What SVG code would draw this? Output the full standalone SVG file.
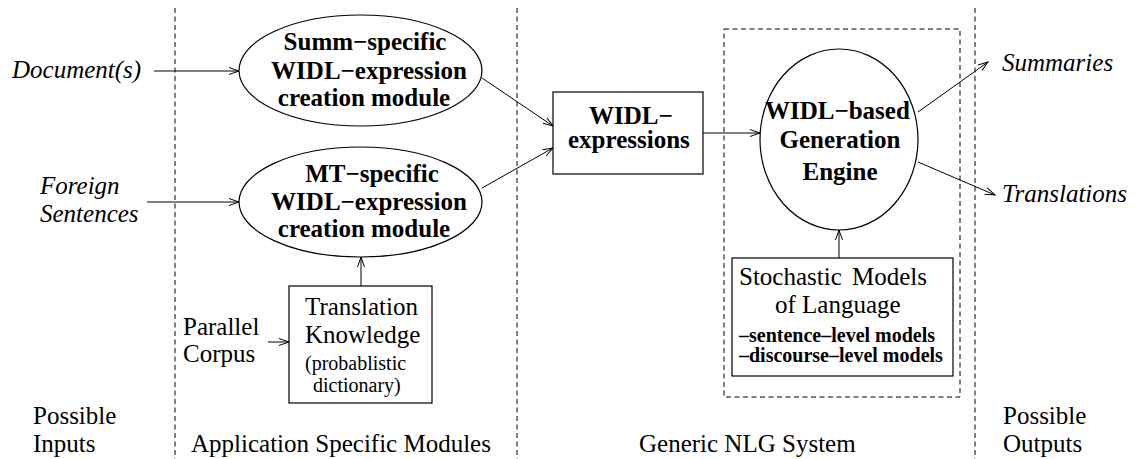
<svg xmlns="http://www.w3.org/2000/svg" width="1142" height="459" viewBox="0 0 1142 459" font-family="'Liberation Serif', 'Times New Roman', 'DejaVu Serif', serif">
  <style>
    text { font-family: "Liberation Serif", "Times New Roman", "DejaVu Serif", serif; fill: #000; }
    .rm { font-size: 25px; }
    .it { font-size: 25px; font-style: italic; }
    .bf { font-size: 25px; font-weight: bold; }
    .sm { font-size: 20px; }
    .sb { font-size: 20px; font-weight: bold; }
    .mid { text-anchor: middle; }
    .shape { fill: #fff; stroke: #000; stroke-width: 1.2; }
    .sep { stroke: #000; stroke-width: 1; stroke-dasharray: 5 3.5; fill: none; }
    .edge { stroke: #000; stroke-width: 1; fill: none; marker-end: url(#arrow); }
  </style>
  <defs>
    <marker id="arrow" markerUnits="userSpaceOnUse" markerWidth="12" markerHeight="10" refX="10" refY="4" orient="auto">
      <path d="M0,0.5 L10,4 L0,7.5" fill="none" stroke="#000" stroke-width="1"/>
    </marker>
  </defs>
  <rect width="1142" height="459" fill="#fff"/>

  <!-- column separators and system boundary -->
  <g id="separators">
    <line class="sep" x1="175" y1="8" x2="175" y2="459"/>
    <line class="sep" x1="517" y1="8" x2="517" y2="459"/>
    <line class="sep" x1="975" y1="8" x2="975" y2="459"/>
    <rect class="sep" x="724" y="29" width="236" height="368"/>
  </g>

  <!-- connectors -->
  <g id="connectors">
    <line class="edge" x1="154" y1="71" x2="239" y2="71"/>
    <line class="edge" x1="147" y1="202" x2="239" y2="202"/>
    <line class="edge" x1="361" y1="287" x2="361" y2="257"/>
    <line class="edge" x1="268" y1="342" x2="289" y2="342"/>
    <line class="edge" x1="482" y1="78" x2="553" y2="126"/>
    <line class="edge" x1="482" y1="188" x2="553" y2="148"/>
    <line class="edge" x1="703" y1="133" x2="760" y2="133"/>
    <line class="edge" x1="839" y1="258" x2="839" y2="230"/>
    <line class="edge" x1="918" y1="112" x2="988" y2="62"/>
    <line class="edge" x1="918" y1="162" x2="995" y2="195"/>
  </g>

  <!-- input and output labels -->
  <g id="inputs">
    <text class="it" x="12" y="78">Document(s)</text>
    <text class="it" x="40" y="194">Foreign</text>
    <text class="it" x="40" y="222">Sentences</text>
    <text class="rm" x="183" y="335">Parallel</text>
    <text class="rm" x="183" y="362">Corpus</text>
  </g>
  <g id="outputs">
    <text class="it" x="1002" y="71">Summaries</text>
    <text class="it" x="1002" y="202">Translations</text>
  </g>

  <g id="summ-module">
    <ellipse class="shape" cx="360.5" cy="70.5" rx="121.5" ry="55.5"/>
    <text class="bf mid" x="365" y="50">Summ−specific</text>
    <text class="bf mid" x="369" y="79">WIDL−expression</text>
    <text class="bf mid" x="364" y="106">creation module</text>
  </g>

  <g id="mt-module">
    <ellipse class="shape" cx="360.5" cy="202" rx="121.5" ry="55"/>
    <text class="bf mid" x="372" y="182">MT−specific</text>
    <text class="bf mid" x="369" y="210">WIDL−expression</text>
    <text class="bf mid" x="364" y="237">creation module</text>
  </g>

  <g id="translation-knowledge">
    <rect class="shape" x="289" y="286" width="143" height="117"/>
    <text class="rm" x="305" y="315">Translation</text>
    <text class="rm" x="305" y="343">Knowledge</text>
    <text class="sm" x="305" y="370">(probablistic</text>
    <text class="sm" x="313" y="392">dictionary)</text>
  </g>

  <g id="widl-expressions">
    <rect class="shape" x="553" y="92" width="150" height="82"/>
    <text class="bf" x="589" y="124">WIDL−</text>
    <text class="bf" x="568" y="148">expressions</text>
  </g>

  <g id="generation-engine">
    <ellipse class="shape" cx="839" cy="139.5" rx="79" ry="90.5"/>
    <text class="bf" x="765" y="119">WIDL−based</text>
    <text class="bf mid" x="840" y="148">Generation</text>
    <text class="bf mid" x="840" y="180">Engine</text>
  </g>

  <g id="stochastic-models">
    <rect class="shape" x="732" y="258" width="221" height="118"/>
    <text class="rm" x="739" y="285" word-spacing="4">Stochastic Models</text>
    <text class="rm" x="775" y="313">of Language</text>
    <text class="sb" x="739" y="342">–sentence–level models</text>
    <text class="sb" x="739" y="362">–discourse–level models</text>
  </g>

  <!-- column captions -->
  <g id="captions">
    <text class="rm" x="33" y="424">Possible</text>
    <text class="rm" x="33" y="452">Inputs</text>
    <text class="rm" x="191" y="452">Application Specific Modules</text>
    <text class="rm" x="639" y="452">Generic NLG System</text>
    <text class="rm" x="1003" y="424">Possible</text>
    <text class="rm" x="1003" y="452">Outputs</text>
  </g>
</svg>
